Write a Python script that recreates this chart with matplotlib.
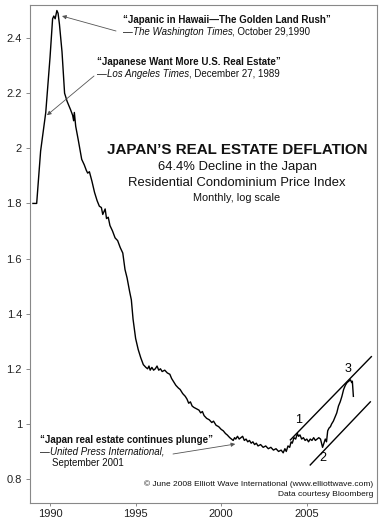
import matplotlib
matplotlib.use("Agg")
from matplotlib import pyplot as plt

plt.rcParams['font.family'] = ['Liberation Sans', 'DejaVu Sans']

# monthly-ish index values (decimal year, index)
dates = [1989.00, 1989.22, 1989.45, 1989.75, 1990.00, 1990.15, 1990.22, 1990.30, 1990.40, 1990.47,
         1990.55, 1990.70, 1990.85, 1991.00, 1991.20, 1991.32, 1991.38, 1991.42, 1991.50, 1991.65,
         1991.85, 1992.00, 1992.12, 1992.20, 1992.30, 1992.45, 1992.60, 1992.75, 1992.88, 1993.00,
         1993.08, 1993.15, 1993.22, 1993.30, 1993.40, 1993.50, 1993.65, 1993.80, 1993.95, 1994.10,
         1994.25, 1994.38, 1994.50, 1994.65, 1994.75, 1994.85, 1995.00, 1995.15, 1995.30, 1995.45,
         1995.60, 1995.70, 1995.78, 1995.85, 1995.95, 1996.05, 1996.15, 1996.25, 1996.35, 1996.45,
         1996.55, 1996.70, 1996.85, 1997.00, 1997.10, 1997.20, 1997.35, 1997.50, 1997.60, 1997.75,
         1997.90, 1998.00, 1998.10, 1998.20, 1998.30, 1998.40, 1998.55, 1998.70, 1998.80, 1998.90,
         1999.00, 1999.15, 1999.30, 1999.45, 1999.55, 1999.70, 1999.85, 2000.00, 2000.12, 2000.25,
         2000.35, 2000.50, 2000.60, 2000.70, 2000.78, 2000.85, 2000.95, 2001.05, 2001.15, 2001.25,
         2001.35, 2001.45, 2001.55, 2001.65, 2001.75, 2001.85, 2001.95, 2002.05, 2002.15, 2002.30,
         2002.45, 2002.60, 2002.75, 2002.90, 2003.05, 2003.20, 2003.35, 2003.50, 2003.62, 2003.72,
         2003.80, 2003.90, 2004.00, 2004.08, 2004.15, 2004.25, 2004.35, 2004.45, 2004.52, 2004.60,
         2004.70, 2004.80, 2004.90, 2005.00, 2005.10, 2005.20, 2005.30, 2005.40, 2005.50, 2005.60,
         2005.70, 2005.80, 2005.92, 2006.00, 2006.08, 2006.15, 2006.22, 2006.30, 2006.38, 2006.45,
         2006.55, 2006.65, 2006.75, 2006.85, 2006.95, 2007.05, 2007.15, 2007.25, 2007.35, 2007.45,
         2007.55, 2007.62, 2007.66, 2007.72]
index = [1.80, 1.80, 1.99, 2.13, 2.33, 2.47, 2.48, 2.47, 2.50, 2.49,
         2.45, 2.35, 2.20, 2.17, 2.14, 2.12, 2.10, 2.13, 2.08, 2.03,
         1.96, 1.94, 1.92, 1.91, 1.915, 1.88, 1.84, 1.81, 1.79, 1.785,
         1.76, 1.77, 1.78, 1.745, 1.75, 1.72, 1.70, 1.675, 1.665, 1.64,
         1.62, 1.56, 1.53, 1.48, 1.45, 1.38, 1.31, 1.27, 1.24, 1.215,
         1.205, 1.20, 1.21, 1.195, 1.205, 1.195, 1.20, 1.21, 1.195, 1.20,
         1.19, 1.195, 1.185, 1.18, 1.165, 1.155, 1.14, 1.13, 1.125, 1.11,
         1.10, 1.09, 1.075, 1.08, 1.065, 1.06, 1.055, 1.05, 1.04, 1.045,
         1.03, 1.02, 1.015, 1.005, 1.01, 0.995, 0.99, 0.98, 0.975, 0.965,
         0.96, 0.95, 0.945, 0.94, 0.95, 0.945, 0.955, 0.945, 0.95, 0.955,
         0.94, 0.945, 0.935, 0.94, 0.93, 0.935, 0.925, 0.93, 0.92, 0.925,
         0.915, 0.92, 0.91, 0.915, 0.905, 0.91, 0.90, 0.905, 0.895, 0.91,
         0.90, 0.92, 0.915, 0.935, 0.93, 0.95, 0.945, 0.965, 0.955, 0.96,
         0.945, 0.95, 0.94, 0.945, 0.935, 0.945, 0.94, 0.95, 0.94, 0.945,
         0.95, 0.945, 0.915, 0.93, 0.945, 0.935, 0.975, 0.985, 0.99, 1.00,
         1.01, 1.025, 1.04, 1.065, 1.08, 1.10, 1.125, 1.14, 1.15, 1.155,
         1.16, 1.15, 1.155, 1.10]

# Elliott wave channel lines
upper_x = [2004.04, 2008.77]
upper_y = [0.942, 1.244]
lower_x = [2005.20, 2008.71]
lower_y = [0.851, 1.080]
wave_labels = ['1', '2', '3']
wave_x = [2004.50, 2005.96, 2007.43]
wave_y = [1.015, 0.876, 1.20]

year_ticks = [1990, 1995, 2000, 2005]
value_ticks = [0.8, 1, 1.2, 1.4, 1.6, 1.8, 2, 2.2, 2.4]
value_labels = ['0.8', '1', '1.2', '1.4', '1.6', '1.8', '2', '2.2', '2.4']

W, H = 384, 523


def px(x, y):
    # pixel position (from top-left) -> figure fraction
    return (x / W, 1 - y / H)


fig = plt.figure(figsize=(3.84, 5.23), dpi=100)
ax = fig.add_axes([30 / W, 20 / H, 347 / W, 498 / H])

ax.plot(dates, index, color='black', lw=1.0)
ax.plot(upper_x, upper_y, color='black', lw=1.0)
ax.plot(lower_x, lower_y, color='black', lw=1.0)
for lab, x, y in zip(wave_labels, wave_x, wave_y):
    ax.text(x, y, lab, fontsize=9, ha='center', va='center')

ax.set_xlim(1988.83, 2009.1)
ax.set_ylim(0.713, 2.52)
ax.set_xticks(year_ticks)
ax.set_yticks(value_ticks)
ax.set_yticklabels(value_labels)
ax.tick_params(direction='out', width=0.6, color='#777', labelsize=8, labelcolor='#222')
ax.tick_params(axis='y', length=3.2, pad=2.5)
ax.tick_params(axis='x', length=2.5, pad=1.5)
for s in ax.spines.values():
    s.set_color('#888')
    s.set_linewidth(0.8)

arrow = dict(arrowstyle='-|>', color='#555', lw=0.6, mutation_scale=6, shrinkA=0, shrinkB=0)
QS = 7.0


def quote(x, y, headline, source, rest):
    fig.text(*px(x, y), headline, fontsize=QS, fontweight='bold', va='center', color='#111')
    t2 = fig.text(*px(x, y + 12), '\u2014', fontsize=QS, va='center', color='#111')
    t3 = ax.annotate(source, xy=(1, 0), xycoords=t2, fontsize=QS, style='italic', va='bottom', color='#111')
    if rest:
        ax.annotate(rest, xy=(1, 0), xycoords=t3, fontsize=QS, va='bottom', color='#111')


quote(123, 20, '\u201cJapanic in Hawaii\u2014The Golden Land Rush\u201d', 'The Washington Times', ', October 29,1990')
ax.annotate('', xy=(1990.70, 2.48), xycoords='data', xytext=px(116, 31), textcoords='figure fraction',
            arrowprops=arrow)

quote(97, 62, '\u201cJapanese Want More U.S. Real Estate\u201d', 'Los Angeles Times', ', December 27, 1989')
ax.annotate('', xy=(1989.82, 2.12), xycoords='data', xytext=px(94, 76), textcoords='figure fraction',
            arrowprops=arrow)

quote(40, 440, '\u201cJapan real estate continues plunge\u201d', 'United Press International,', '')
fig.text(*px(52, 463), 'September 2001', fontsize=QS, va='center', color='#111')
ax.annotate('', xy=(2000.82, 0.927), xycoords='data', xytext=px(173, 454), textcoords='figure fraction',
            arrowprops=arrow)

fig.text(*px(237, 150), 'JAPAN\u2019S REAL ESTATE DEFLATION', fontsize=10.9, fontweight='bold',
         ha='center', va='center', color='#111')
fig.text(*px(237, 167), '64.4% Decline in the Japan', fontsize=9.4, ha='center', va='center', color='#111')
fig.text(*px(237, 183), 'Residential Condominium Price Index', fontsize=9.4, ha='center', va='center', color='#111')
fig.text(*px(237, 198), 'Monthly, log scale', fontsize=7.8, ha='center', va='center', color='#111')

fig.text(*px(373, 484), '\u00a9 June 2008 Elliott Wave International (www.elliottwave.com)', fontsize=6.0,
         ha='right', va='center', color='#111')
fig.text(*px(373, 495), 'Data courtesy Bloomberg', fontsize=6.0, ha='right', va='center', color='#111')

plt.savefig('out.png', dpi=100)
